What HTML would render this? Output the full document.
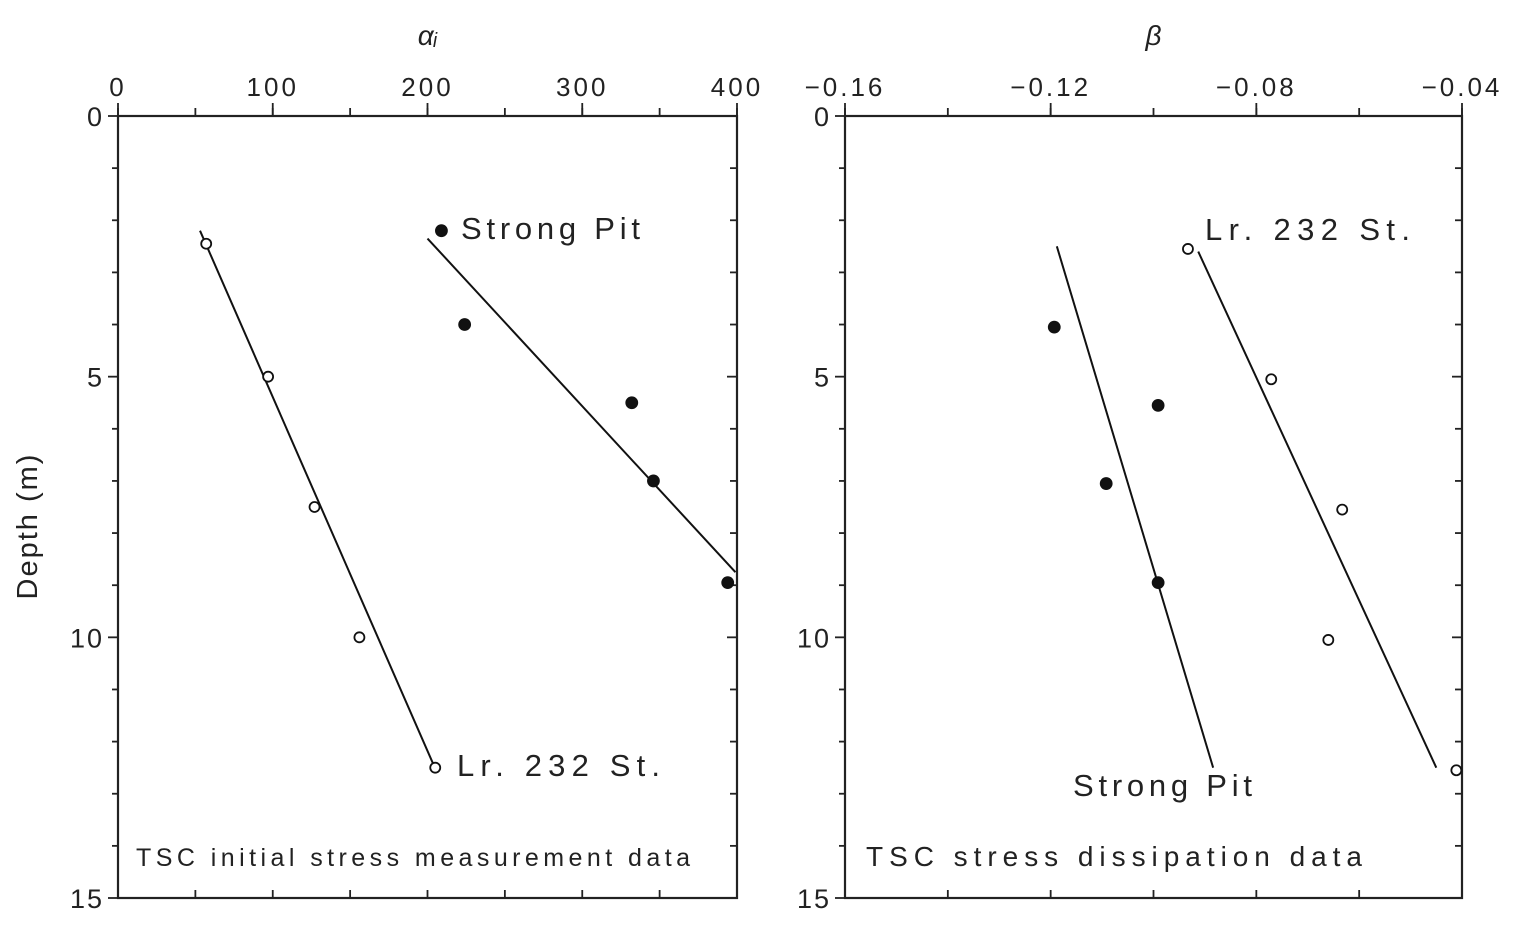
<!DOCTYPE html>
<html><head><meta charset="utf-8"><style>
html,body{margin:0;padding:0;background:#fff;}
svg text{font-family:"Liberation Sans",sans-serif;fill:#222;}
</style></head><body>
<svg id="c" width="1532" height="924" viewBox="0 0 1532 924" xmlns="http://www.w3.org/2000/svg"></svg>
<script>
const depthTicks=[0,5,10,15];
const alphaTicks=[0,100,200,300,400];
const betaTicks=[-0.16,-0.12,-0.08,-0.04];
const betaTickLabels=["\u22120.16","\u22120.12","\u22120.08","\u22120.04"];
// left panel data
const lrAlphaDepth=[2.45,5.0,7.5,10.0,12.5];
const lrAlphaVal=[57,97,127,156,205];
const spAlphaDepth=[2.2,4.0,5.5,7.0,8.95];
const spAlphaVal=[209,224,332,346,394];
const lrAlphaLine=[[53,2.2],[204,12.45]];
const spAlphaLine=[[200,2.35],[399,8.75]];
// right panel data
const lrBetaDepth=[2.55,5.05,7.55,10.05,12.55];
const lrBetaVal=[-0.0933,-0.0771,-0.0633,-0.066,-0.0411];
const spBetaDepth=[4.05,5.55,7.05,8.95];
const spBetaVal=[-0.1193,-0.0991,-0.1092,-0.0991];
const spBetaLine=[[-0.1188,2.5],[-0.0884,12.5]];
const lrBetaLine=[[-0.0913,2.6],[-0.045,12.5]];

const svg=document.getElementById('c');
const NS="http://www.w3.org/2000/svg";
function el(t,a,p){const e=document.createElementNS(NS,t);for(const k in a)e.setAttribute(k,a[k]);(p||svg).appendChild(e);return e;}
const Y0=116,Y1=898;
const yS=d=>Y0+(Y1-Y0)*d/15;
const xA=v=>118+(737-118)*v/400;
const xB=v=>845+(1462-845)*(v+0.16)/0.12;

function panel(name,x0,x1,xs,ticks,labels,minorStep,lo,hi,title){
  const g=el('g',{});
  
  
  const fr=el('rect',{x:x0,y:Y0,width:x1-x0,height:Y1-Y0,fill:'none',stroke:'#222','stroke-width':2.2},g);
  
  
  for(let d=0;d<=15;d++){
    const y=yS(d);const maj=d%5==0;
    el('line',{x1:x0-(maj?10:6),x2:x0,y1:y,y2:y,stroke:'#222','stroke-width':1.8},g);
    el('line',{x1:x1-(maj?10:7),x2:x1,y1:y,y2:y,stroke:'#222','stroke-width':1.8},g);
  }
  depthTicks.forEach(d=>{const t=el('text',{x:x0-14,y:yS(d)+10,'text-anchor':'end','font-size':27,'letter-spacing':2},g);t.textContent=d;
    });
  for(let v=lo;v<=hi+1e-9;v+=minorStep){
    const x=xs(v);
    el('line',{x1:x,x2:x,y1:Y0,y2:Y0-8,stroke:'#222','stroke-width':1.8},g);
    el('line',{x1:x,x2:x,y1:Y1,y2:Y1-8,stroke:'#222','stroke-width':1.8},g);
  }
  ticks.forEach((v,i)=>{const t=el('text',{x:xs(v),y:Y0-20,'text-anchor':'middle','font-size':26,'letter-spacing':3},g);t.textContent=labels[i];
    
    el('line',{x1:xs(v),x2:xs(v),y1:Y0,y2:Y0-13,stroke:'#222','stroke-width':1.8},g);});
  const tt=el('text',{x:(x0+x1)/2,y:45,'text-anchor':'middle','font-size':28,'font-style':'italic'},g);
  tt.textContent=title;
  return g;
}
const gL=panel('panel-initial-stress',118,737,xA,alphaTicks,alphaTicks.map(String),50,0,400,'\u03b1\u1d62');
const gR=panel('panel-dissipation',845,1462,xB,betaTicks,betaTickLabels,0.02,-0.16,-0.04,'\u03b2');

function pts(g,xs,vals,deps,filled,name){
  vals.forEach((v,i)=>{const c=el('circle',{cx:xs(v),cy:yS(deps[i]),r:filled?5.5:5,fill:filled?'#111':'#fff',stroke:'#111','stroke-width':1.8},g);
    });
}
function line(g,xs,L,name){const l=el('line',{x1:xs(L[0][0]),y1:yS(L[0][1]),x2:xs(L[1][0]),y2:yS(L[1][1]),stroke:'#111','stroke-width':2},g);
  }
line(gL,xA,lrAlphaLine,'lr232-fit-line');line(gL,xA,spAlphaLine,'strong-pit-fit-line');
pts(gL,xA,lrAlphaVal,lrAlphaDepth,false,'lr232-point');pts(gL,xA,spAlphaVal,spAlphaDepth,true,'strong-pit-point');
line(gR,xB,spBetaLine,'strong-pit-fit-line');line(gR,xB,lrBetaLine,'lr232-fit-line');
pts(gR,xB,lrBetaVal,lrBetaDepth,false,'lr232-point');pts(gR,xB,spBetaVal,spBetaDepth,true,'strong-pit-point');

function txt(x,y,s,size,w,name,anchor,rot){const t=el('text',{x:x,y:y,'font-size':size,'text-anchor':anchor||'start'});
  if(w){t.setAttribute('textLength',w);t.setAttribute('lengthAdjust','spacing');}
  if(rot)t.setAttribute('transform',rot);t.textContent=s;return t;}
txt(461,239,'Strong Pit',31,179,'label-strong-pit');
txt(457,776,'Lr. 232 St.',31,203,'label-lr232');
txt(136,866,'TSC initial stress measurement data',25,554,'panel-caption-left');
txt(1205,240,'Lr. 232 St.',31,205,'label-lr232-right');
txt(1073,796,'Strong Pit',31,179,'label-strong-pit-right');
txt(866,866,'TSC stress dissipation data',28,496,'panel-caption-right');
const yt=txt(0,0,'Depth (m)',29,0,'y-axis-title','middle','translate(37,526) rotate(-90)');
yt.setAttribute('letter-spacing','2');
</script>
</body></html>
